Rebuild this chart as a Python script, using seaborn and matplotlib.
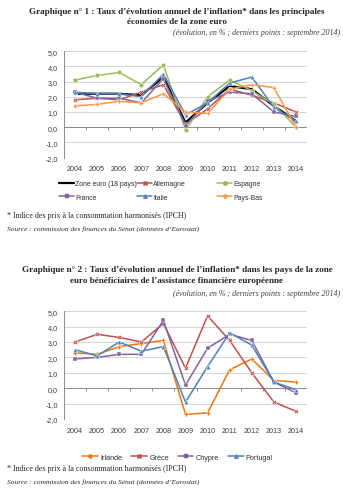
import numpy as np
import pandas as pd
import matplotlib
matplotlib.use("Agg")
import matplotlib.pyplot as plt
from matplotlib.lines import Line2D
import seaborn as sns

# ---------------- data ----------------
years = ['2004', '2005', '2006', '2007', '2008', '2009', '2010', '2011', '2012', '2013', '2014']
y_ticks = [5, 4, 3, 2, 1, 0, -1, -2]
y_tick_labels = ['5,0', '4,0', '3,0', '2,0', '1,0', '0,0', '-1,0', '-2,0']

# Chart 1
zone_euro = [2.2, 2.2, 2.2, 2.1, 3.3, 0.3, 1.6, 2.7, 2.5, 1.4, 0.4]
allemagne = [1.8, 1.9, 1.8, 2.3, 2.8, 0.2, 1.2, 2.5, 2.1, 1.6, 1.0]
espagne = [3.1, 3.4, 3.6, 2.8, 4.1, -0.2, 2.0, 3.1, 2.4, 1.5, 0.0]
france = [2.3, 1.9, 1.9, 1.6, 3.2, 0.1, 1.7, 2.3, 2.2, 1.0, 0.7]
italie = [2.3, 2.2, 2.2, 2.0, 3.5, 0.8, 1.6, 2.9, 3.3, 1.3, 0.4]
pays_bas = [1.4, 1.5, 1.7, 1.6, 2.2, 1.0, 0.9, 2.5, 2.8, 2.6, 0.0]

# Chart 2
irlande = [2.3, 2.2, 2.7, 2.9, 3.1, -1.7, -1.6, 1.2, 1.9, 0.5, 0.4]
grece = [3.0, 3.5, 3.3, 3.0, 4.2, 1.3, 4.7, 3.1, 1.0, -0.9, -1.5]
chypre = [1.9, 2.0, 2.2, 2.2, 4.4, 0.2, 2.6, 3.5, 3.1, 0.4, -0.3]
portugal = [2.5, 2.1, 3.0, 2.4, 2.7, -0.9, 1.4, 3.6, 2.8, 0.4, -0.1]

series1 = {'Allemagne': allemagne, 'Espagne': espagne, 'France': france,
           'Italie': italie, 'Pays-Bas': pays_bas}
series2 = {'Irlande': irlande, 'Grèce': grece, 'Chypre': chypre, 'Portugal': portugal}

colors = {'Zone euro (18 pays)': '#000000', 'Allemagne': '#C0504D', 'Espagne': '#9BBB59',
          'France': '#8064A2', 'Italie': '#4F81BD', 'Pays-Bas': '#F79646',
          'Irlande': '#F0760E', 'Grèce': '#C0504D', 'Chypre': '#8064A2', 'Portugal': '#4F81BD'}
markers = {'Allemagne': 'X', 'Espagne': 'o', 'France': 's', 'Italie': '^', 'Pays-Bas': 'P',
           'Irlande': 'P', 'Grèce': 'X', 'Chypre': 's', 'Portugal': '^'}


def long_df(d):
    rows = []
    for name, vals in d.items():
        for i, v in enumerate(vals):
            rows.append({'pos': i, 'val': v, 'serie': name})
    return pd.DataFrame(rows)


sns.set_style("white")
plt.rcParams['font.family'] = ['Liberation Sans', 'DejaVu Sans']

W, H = 343, 502
fig = plt.figure(figsize=(W / 100, H / 100), dpi=100)

SERIF = ['Liberation Serif', 'DejaVu Serif']
SANS = ['Liberation Sans', 'DejaVu Sans']


def px_ax(left, top, right, bottom):
    return fig.add_axes([left / W, 1 - bottom / H, (right - left) / W, (bottom - top) / H])


def style_axis(ax):
    ax.set_xlim(-0.5, len(years) - 0.5)
    ax.set_ylim(-2, 5)
    ax.set_yticks(y_ticks)
    ax.set_yticklabels(y_tick_labels)
    ax.set_xticks(range(len(years)))
    ax.set_xticklabels(years)
    ax.tick_params(axis='both', length=0, labelsize=5.2, colors='#404040')
    ax.tick_params(axis='y', pad=4.5)
    ax.tick_params(axis='x', pad=5.5)
    ax.grid(axis='y', color='#D4D4D4', linewidth=0.7)
    ax.set_axisbelow(True)
    for s in ['top', 'right', 'bottom']:
        ax.spines[s].set_visible(False)
    ax.spines['left'].set_color('#8C8C8C')
    ax.spines['left'].set_linewidth(0.7)
    ax.axhline(0, color='#8C8C8C', linewidth=0.7, zorder=1)
    ax.vlines(np.arange(len(years) + 1) - 0.5, -0.2, 0, color='#8C8C8C', linewidth=0.7, zorder=1)
    ax.set_xlabel('')
    ax.set_ylabel('')


# ---------------- Chart 1 ----------------
ax1 = px_ax(64, 52.2, 307, 158.5)
df_ze = pd.DataFrame({'pos': range(len(years)), 'val': zone_euro})
sns.lineplot(data=df_ze, x='pos', y='val', color='#000000', linewidth=1.6, ax=ax1, legend=False)
df1 = long_df(series1)
sns.lineplot(data=df1, x='pos', y='val', hue='serie', style='serie',
             hue_order=list(series1), style_order=list(series1),
             palette={k: colors[k] for k in series1}, markers={k: markers[k] for k in series1},
             dashes=False, linewidth=1.1, markersize=3.3, markeredgewidth=0.3,
             ax=ax1, legend=False)
style_axis(ax1)


def handle(name, lw=1.1):
    if name in markers:
        return Line2D([], [], color=colors[name], marker=markers[name], markersize=3.3,
                      markeredgewidth=0.3, linewidth=lw)
    return Line2D([], [], color=colors[name], linewidth=1.6)


cols1 = [['Zone euro (18 pays)', 'France'], ['Allemagne', 'Italie'], ['Espagne', 'Pays-Bas']]
xs1 = [59, 137, 217]
for names, x0 in zip(cols1, xs1):
    leg = fig.legend([handle(n) for n in names], names, loc='center left',
                     bbox_to_anchor=(x0 / W, 1 - 191.5 / H), frameon=False,
                     prop={'family': SANS, 'size': 4.95}, handlelength=2.25,
                     handletextpad=0.12, labelspacing=0.95, borderpad=0, borderaxespad=0,
                     labelcolor='#303030')

# texts chart 1
fig.text(177 / W, 1 - 12.5 / H,
         "Graphique n° 1 : Taux d’évolution annuel de l’inflation* dans les principales",
         ha='center', va='center', fontsize=6.6, fontweight='bold', family=SERIF)
fig.text(177 / W, 1 - 22.5 / H, "économies de la zone euro",
         ha='center', va='center', fontsize=6.6, fontweight='bold', family=SERIF)
fig.text(340 / W, 1 - 33.5 / H, "(évolution, en % ; derniers points : septembre 2014)",
         ha='right', va='center', fontsize=5.75, style='italic', family=SERIF, color='#404040')
fig.text(7 / W, 1 - 216.5 / H, "* Indice des prix à la consommation harmonisés (IPCH)",
         ha='left', va='center', fontsize=5.8, family=SERIF)
fig.text(7 / W, 1 - 229.5 / H, "Source : commission des finances du Sénat (données d’Eurostat)",
         ha='left', va='center', fontsize=5.35, style='italic', family=SERIF)

# ---------------- Chart 2 ----------------
ax2 = px_ax(64, 312.2, 307, 420)
df2 = long_df(series2)
sns.lineplot(data=df2, x='pos', y='val', hue='serie', style='serie',
             hue_order=list(series2), style_order=list(series2),
             palette={k: colors[k] for k in series2}, markers={k: markers[k] for k in series2},
             dashes=False, linewidth=1.1, markersize=3.3, markeredgewidth=0.3,
             ax=ax2, legend=False)
style_axis(ax2)

names2 = list(series2)
fig.legend([handle(n) for n in names2], names2, loc='center', ncol=4,
           bbox_to_anchor=(177.5 / W, 1 - 458 / H), frameon=False,
           prop={'family': SANS, 'size': 5.2}, handlelength=2.2, handletextpad=0.3,
           columnspacing=1.2, borderpad=0, borderaxespad=0, labelcolor='#303030')

fig.text(177 / W, 1 - 270.5 / H,
         "Graphique n° 2 : Taux d’évolution annuel de l’inflation* dans les pays de la zone",
         ha='center', va='center', fontsize=6.6, fontweight='bold', family=SERIF)
fig.text(177 / W, 1 - 281.5 / H, "euro bénéficiaires de l’assistance financière européenne",
         ha='center', va='center', fontsize=6.6, fontweight='bold', family=SERIF)
fig.text(340 / W, 1 - 294 / H, "(évolution, en % ; derniers points : septembre 2014)",
         ha='right', va='center', fontsize=5.75, style='italic', family=SERIF, color='#404040')
fig.text(7 / W, 1 - 469.5 / H, "* Indice des prix à la consommation harmonisés (IPCH)",
         ha='left', va='center', fontsize=5.8, family=SERIF)
fig.text(7 / W, 1 - 482 / H, "Source : commission des finances du Sénat (données d’Eurostat)",
         ha='left', va='center', fontsize=5.35, style='italic', family=SERIF)

fig.savefig('out.png', dpi=100, facecolor='white')
